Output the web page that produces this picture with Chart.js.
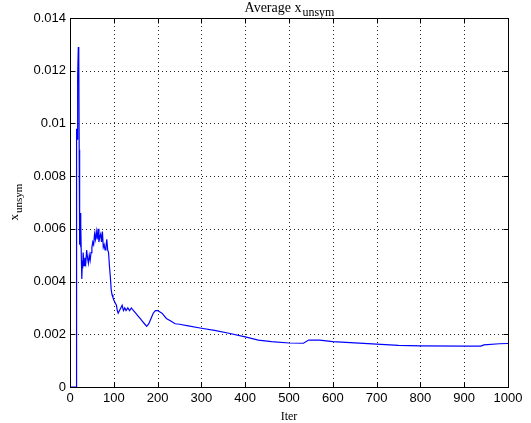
<!DOCTYPE html>
<html>
<head>
<meta charset="utf-8">
<script src="https://cdn.jsdelivr.net/npm/chart.js@4.4.0/dist/chart.umd.min.js"></script>
<style>
  html, body { margin: 0; padding: 0; background: #fff; }
  #wrap { width: 531px; height: 423px; }
</style>
</head>
<body>
<div id="wrap"><canvas id="avgChart" width="531" height="423"></canvas></div>
<script>
// iteration index and running average of x_unsym
const iterations = [
  0, 14, 15, 16, 17, 18, 19, 20, 21, 22, 23, 24, 25, 26, 27, 28, 29, 30,
  32, 34, 36, 38, 40, 42, 44, 46, 48, 50, 52, 54, 56, 58, 60, 62, 64, 66,
  68, 70, 72, 74, 76, 78, 80, 82, 84, 86, 88, 90, 92, 94, 96, 98, 100,
  103, 106, 108, 110, 113, 116, 119, 122, 125, 128, 132, 136, 140, 145,
  150, 155, 160, 165, 170, 175, 180, 185, 190, 195, 200, 210, 220, 230,
  240, 250, 270, 300, 330, 360, 400, 430, 460, 500, 533, 545, 570, 600,
  640, 700, 750, 800, 900, 938, 945, 980, 1000
];
const xUnsym = [
  0, 0, 0.0098, 0.0094, 0.0099, 0.0118, 0.0129, 0.0126, 0.0090, 0.0054,
  0.0066, 0.0053, 0.0062, 0.0048, 0.0041, 0.0047, 0.0045, 0.0051,
  0.0046, 0.0049, 0.0047, 0.0052, 0.0049, 0.0047, 0.0050, 0.0048, 0.0051,
  0.0053, 0.0055, 0.0054, 0.0058, 0.0056, 0.0059, 0.0056, 0.0060, 0.0055,
  0.0057, 0.0058, 0.0055, 0.0059, 0.0053, 0.0054, 0.0052, 0.0053, 0.0056,
  0.0052, 0.0051, 0.0046, 0.0042, 0.0037, 0.0035, 0.0034, 0.0033,
  0.0032, 0.0031, 0.0029, 0.0028, 0.0029, 0.0030, 0.0031, 0.0029, 0.0030,
  0.0029, 0.0030, 0.0029, 0.0030, 0.0029,
  0.0028, 0.0027, 0.0026, 0.0025, 0.0024, 0.0023, 0.0024, 0.0026, 0.0028,
  0.0029, 0.0029, 0.0028, 0.0026, 0.0025,
  0.0024, 0.00238, 0.00232, 0.00223, 0.00215, 0.00205, 0.00190, 0.00178,
  0.00172, 0.00167, 0.00166, 0.00178, 0.00178, 0.00172,
  0.00168, 0.00163, 0.00158, 0.00156, 0.00155, 0.00155, 0.00160, 0.00164,
  0.00165
];
const xTicks = [0, 100, 200, 300, 400, 500, 600, 700, 800, 900, 1000];
const yTicks = [0, 0.002, 0.004, 0.006, 0.008, 0.01, 0.012, 0.014];

const points = iterations.map((it, i) => ({ x: it, y: xUnsym[i] }));

// text with a subscript part, drawn centred at (0,0) of the current transform
function subText(ctx, main, sub, size) {
  const serif = "'Liberation Serif', 'Times New Roman', serif";
  ctx.font = size + "px " + serif;
  const w1 = ctx.measureText(main).width;
  ctx.font = (size - 2) + "px " + serif;
  const w2 = ctx.measureText(sub).width;
  const start = -(w1 + w2) / 2;
  ctx.textAlign = "left";
  ctx.textBaseline = "alphabetic";
  ctx.font = size + "px " + serif;
  ctx.fillText(main, start, 0);
  ctx.font = (size - 2) + "px " + serif;
  ctx.fillText(sub, start + w1 + 1, 4);
}

// matlab style box: dotted grid, inward ticks on all four sides, labels
const matlabFrame = {
  id: "matlabFrame",
  beforeDatasetsDraw(chart) {
    const { ctx, chartArea: a, scales } = chart;
    ctx.save();
    ctx.strokeStyle = "#222";
    ctx.lineWidth = 1;
    ctx.setLineDash([1, 3]);
    xTicks.forEach((v) => {
      if (v === 0 || v === 1000) return;
      const px = Math.round(scales.x.getPixelForValue(v)) + 0.5;
      ctx.beginPath();
      ctx.moveTo(px, a.top);
      ctx.lineTo(px, a.bottom);
      ctx.stroke();
    });
    yTicks.forEach((v) => {
      if (v === 0 || v === 0.014) return;
      const py = Math.round(scales.y.getPixelForValue(v)) + 0.5;
      ctx.beginPath();
      ctx.moveTo(a.left, py);
      ctx.lineTo(a.right, py);
      ctx.stroke();
    });
    ctx.restore();
  },
  afterDatasetsDraw(chart) {
    const { ctx, chartArea: a, scales } = chart;
    const L = Math.round(a.left) + 0.5, R = Math.round(a.right) + 0.5;
    const T = Math.round(a.top) + 0.5, B = Math.round(a.bottom) + 0.5;
    ctx.save();
    ctx.strokeStyle = "#000";
    ctx.lineWidth = 1;
    ctx.setLineDash([]);
    ctx.strokeRect(L, T, R - L, B - T);
    ctx.beginPath();
    xTicks.forEach((v) => {
      const px = Math.round(scales.x.getPixelForValue(v)) + 0.5;
      ctx.moveTo(px, B); ctx.lineTo(px, B - 5);
      ctx.moveTo(px, T); ctx.lineTo(px, T + 5);
    });
    yTicks.forEach((v) => {
      const py = Math.round(scales.y.getPixelForValue(v)) + 0.5;
      ctx.moveTo(L, py); ctx.lineTo(L + 5, py);
      ctx.moveTo(R, py); ctx.lineTo(R - 5, py);
    });
    ctx.stroke();

    ctx.fillStyle = "#000";
    const cx = (a.left + a.right) / 2;
    ctx.save();
    ctx.translate(cx, 12);
    subText(ctx, "Average x", "unsym", 14);
    ctx.restore();

    ctx.save();
    ctx.translate(18, (a.top + a.bottom) / 2);
    ctx.rotate(-Math.PI / 2);
    subText(ctx, "x", "unsym", 13);
    ctx.restore();

    ctx.font = "12px 'Liberation Serif', 'Times New Roman', serif";
    ctx.textAlign = "center";
    ctx.textBaseline = "alphabetic";
    ctx.fillText("Iter", cx, 420);
    ctx.restore();
  }
};

const tickFont = { family: "'Liberation Sans', Arial, sans-serif", size: 13 };

new Chart(document.getElementById("avgChart"), {
  type: "line",
  data: {
    datasets: [{
      label: "x_unsym",
      data: points,
      borderColor: "#0000ff",
      borderWidth: 1.2,
      pointRadius: 0,
      tension: 0,
      fill: false
    }]
  },
  options: {
    responsive: false,
    animation: false,
    devicePixelRatio: 1,
    layout: { padding: { left: 0, right: 23, top: 18, bottom: 0 } },
    plugins: { legend: { display: false }, tooltip: { enabled: false } },
    scales: {
      x: {
        type: "linear",
        min: 0,
        max: 1000,
        afterBuildTicks: (s) => { s.ticks = xTicks.map((v) => ({ value: v })); },
        afterFit: (s) => { s.height = 36; },
        ticks: {
          font: tickFont,
          color: "#000",
          padding: 4,
          maxRotation: 0,
          callback: (v) => String(v)
        },
        grid: { display: false, drawTicks: false },
        border: { display: false }
      },
      y: {
        min: 0,
        max: 0.014,
        afterBuildTicks: (s) => { s.ticks = yTicks.map((v) => ({ value: v })); },
        afterFit: (s) => { s.width = 70; },
        ticks: {
          font: tickFont,
          color: "#000",
          padding: 4,
          callback: (v) => String(+v.toFixed(3))
        },
        grid: { display: false, drawTicks: false },
        border: { display: false }
      }
    }
  },
  plugins: [matlabFrame]
});
</script>
</body>
</html>
